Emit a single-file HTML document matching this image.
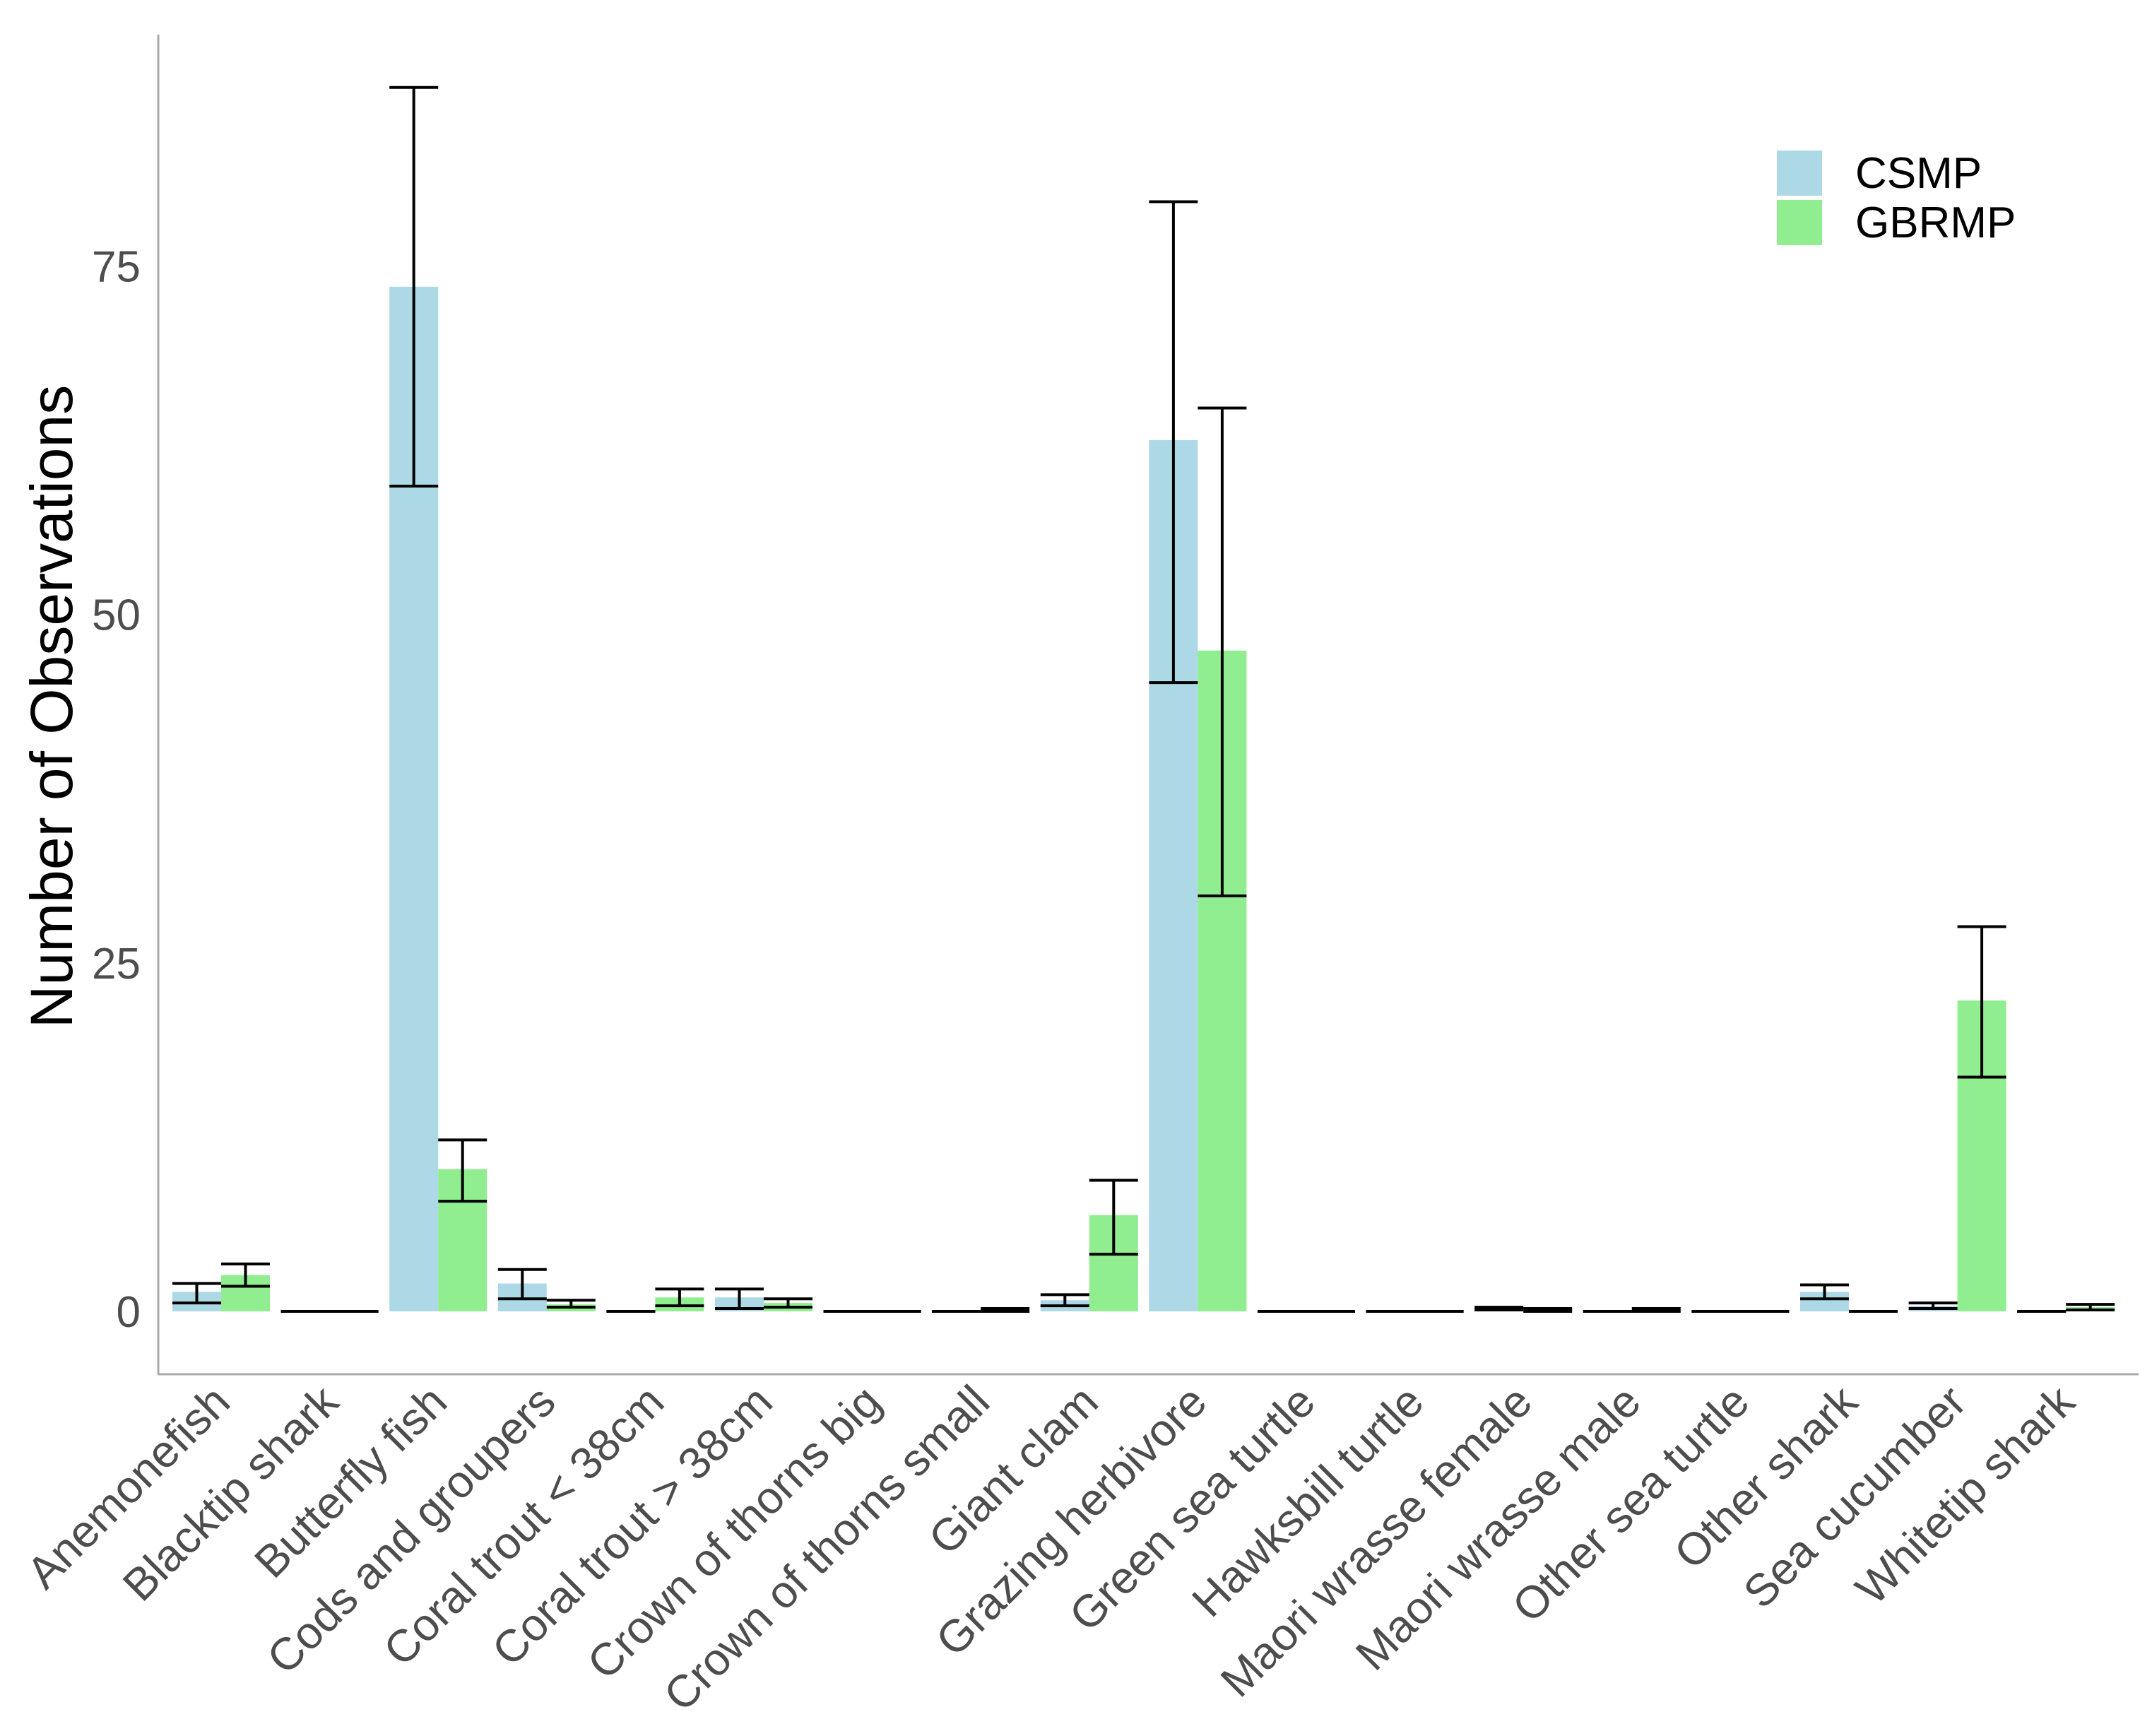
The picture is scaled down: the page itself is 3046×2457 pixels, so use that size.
<!DOCTYPE html>
<html><head><meta charset="utf-8"><style>
html,body{margin:0;padding:0;background:#fff;}
svg{display:block;font-family:"Liberation Sans",sans-serif;}
</style></head><body>
<svg id="chart" width="3046" height="2457" viewBox="0 0 3046 2457" xmlns="http://www.w3.org/2000/svg">
<rect x="0" y="0" width="3046" height="2457" fill="#fff"/>
<g id="axes"></g>
<g id="bars"></g>
<g id="errs"></g>
<text transform="translate(102,1000) rotate(-90)" text-anchor="middle" font-size="84" fill="#000">Number of Observations</text>
<g>
<rect x="2515" y="213" width="64" height="64" fill="#add8e6"/>
<rect x="2515" y="283" width="64" height="64" fill="#90ee90"/>
<text x="2626" y="266" font-size="62" fill="#000">CSMP</text>
<text x="2626" y="336" font-size="62" fill="#000">GBRMP</text>
</g>
</svg>
<script>
const categories=["Anemonefish","Blacktip shark","Butterfly fish","Cods and groupers","Coral trout < 38cm","Coral trout > 38cm","Crown of thorns big","Crown of thorns small","Giant clam","Grazing herbivore","Green sea turtle","Hawksbill turtle","Maori wrasse female","Maori wrasse male","Other sea turtle","Other shark","Sea cucumber","Whitetip shark"];
const csmpMean=[1.4,0,73.5,2.0,0,1.0,0,0,0.8,62.5,0,0,0.2,0,0,1.4,0.4,0];
const csmpLo=[0.6,0,59.2,0.9,0,0.2,0,0,0.4,45.1,0,0,0.1,0,0,0.9,0.2,0];
const csmpHi=[2.0,0,87.8,3.0,0,1.6,0,0,1.2,79.6,0,0,0.3,0,0,1.9,0.6,0];
const gbrMean=[2.6,0,10.2,0.5,1.0,0.6,0,0.1,6.9,47.4,0,0,0.1,0.1,0,0,22.3,0.3];
const gbrLo=[1.8,0,7.9,0.3,0.4,0.3,0,0,4.1,29.8,0,0,0,0,0,0,16.8,0.1];
const gbrHi=[3.4,0,12.3,0.8,1.6,0.9,0,0.2,9.4,64.8,0,0,0.2,0.2,0,0,27.6,0.5];
const yTicks=[0,25,50,75];
const seriesNames=["CSMP","GBRMP"];

const NS="http://www.w3.org/2000/svg";
const X0=313, PERIOD=153.6, BW=69;
const Y0=1856, PXU=19.73;
const xs=i=>X0+i*PERIOD;
const ys=v=>Y0-v*PXU;
function mk(tag,attrs,parent){const e=document.createElementNS(NS,tag);for(const k in attrs)e.setAttribute(k,attrs[k]);parent.appendChild(e);return e;}
const axes=document.getElementById('axes'),bars=document.getElementById('bars'),errs=document.getElementById('errs');
let a=mk('line',{x1:224,y1:49,x2:224,y2:1945,stroke:'#aaa','stroke-width':3},axes);


a=mk('line',{x1:223,y1:1945,x2:3027,y2:1945,stroke:'#aaa','stroke-width':3},axes);


yTicks.forEach(t=>{
  const e=mk('text',{x:199,y:ys(t)+22,'text-anchor':'end','font-size':62,fill:'#4d4d4d'},axes);
  e.textContent=t;
  
  
});
categories.forEach((c,i)=>{
  const cx=xs(i);
  const e=mk('text',{transform:`translate(${cx+16},${1988}) rotate(-45)`,'text-anchor':'end','font-size':64,fill:'#4d4d4d'},axes);
  e.textContent=c;
  
  
  const sets=[[csmpMean,csmpLo,csmpHi,'#add8e6',cx-BW],[gbrMean,gbrLo,gbrHi,'#90ee90',cx]];
  sets.forEach((s,j)=>{
    const [m,lo,hi,col,x]=s;
    const top=ys(m[i]);
    const b=mk('rect',{x:x,y:top,width:BW,height:Y0-top,fill:col},bars);
    
    
    const g=mk('g',{stroke:'#000','stroke-width':4},errs);
    
    
    const yl=ys(lo[i]),yh=ys(hi[i]),xm=x+BW/2;
    mk('line',{x1:x,x2:x+BW,y1:yl,y2:yl},g);
    mk('line',{x1:x,x2:x+BW,y1:yh,y2:yh},g);
    mk('line',{x1:xm,x2:xm,y1:yl,y2:yh},g);
  });
});
</script>
</body></html>
